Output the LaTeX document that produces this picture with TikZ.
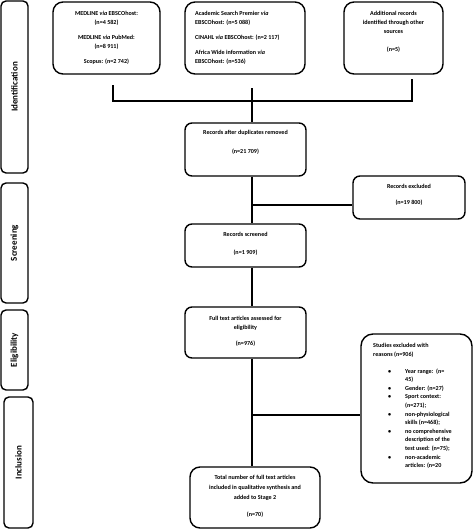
\documentclass[tikz,border=0pt]{standalone}
\usepackage{fontspec}
\setmainfont{Carlito}
\newcommand{\pbul}{\hspace*{15pt}\makebox[17pt][l]{\textbullet}}
\newcommand{\pcont}{\hspace*{32pt}}
\begin{document}
\begin{tikzpicture}[x=1pt,y=-1pt,
  box/.style={draw, line width=1.4pt, rounded corners=#1, inner sep=0pt},
  box/.default=7pt,
  txt/.style={font=\fontsize{6.1}{9}\selectfont\bfseries, align=center, inner sep=0pt},
  phasefont/.style={font=\fontsize{9}{11}\selectfont\bfseries},
  conn/.style={line width=1.4pt}]
\useasboundingbox (0,0) rectangle (473,530);

% phase boxes
\node[box=5pt, phasefont, minimum width=27pt, minimum height=172pt] (ident) at (14.5,87) {\rotatebox{90}{Identification}};
\node[box=5pt, phasefont, minimum width=27pt, minimum height=120pt] (screen) at (14.5,243) {\rotatebox{90}{Screening}};
\node[box=5pt, phasefont, minimum width=27pt, minimum height=80pt] (elig) at (14.5,350) {\rotatebox{90}{Eligibility}};
\node[box=5pt, phasefont, minimum width=29pt, minimum height=131pt] (incl) at (18.5,462.5) {\rotatebox{90}{Inclusion}};

% top boxes
\node[box=10pt, minimum width=107pt, minimum height=72pt] (medline) at (106.5,38) {};
\node[box=10pt, minimum width=120pt, minimum height=72pt] (acad) at (245,38) {};
\node[box=10pt, minimum width=99pt, minimum height=72pt] (addl) at (393.5,38) {};
\node[txt] (medlineT) at (106.5,38) {MEDLINE \textit{via} EBSCOhost:\\(n=4 582)\\[6pt]MEDLINE \textit{via} PubMed:\\(n=8 911)\\[6pt]Scopus: (n=2 742)};
\node[txt, align=left, anchor=west] (acadT) at (195,38) {Academic Search Premier \textit{via}\\EBSCOhost: (n=5 088)\\[6pt]CINAHL \textit{via} EBSCOhost: (n=2 117)\\[6pt]Africa Wide information \textit{via}\\EBSCOhost: (n=536)};
\node[txt] (addlT) at (393.5,32) {Additional records\\identified through other\\sources\\[9pt](n=5)};

% flow boxes
\node[box, minimum width=121pt, minimum height=53pt] (dup) at (245.5,149.5) {};
\node[txt] (dupT) at (245.5,142.5) {Records after duplicates removed\\[10pt](n=21 709)};
\node[box, minimum width=112pt, minimum height=43pt] (excl) at (409,197.5) {};
\node[txt] (exclT) at (409,195) {Records excluded\\[7pt](n=19 800)};
\node[box, minimum width=121pt, minimum height=43pt] (screened) at (245.5,245.5) {};
\node[txt] (screenedT) at (245.5,244) {Records screened\\[9pt](n=1 909)};
\node[box, minimum width=121pt, minimum height=51pt] (full) at (245.5,332.5) {};
\node[txt] (fullT) at (245.5,331) {Full text articles assessed for\\eligibility\\[7pt](n=976)};
\node[box=12pt, minimum width=111pt, minimum height=149pt] (studies) at (416.5,408.5) {};
\node[txt, align=left, anchor=north west, font=\fontsize{6.1}{8.6}\selectfont\bfseries] (studiesT) at (373,343.5) {Studies excluded with\\reasons (n=906)\\[8pt]
\pbul Year range:\ \ (n=\\\pcont 45)\\
\pbul Gender: (n=27)\\
\pbul Sport context:\\\pcont (n=271);\\
\pbul non-physiological\\\pcont skills (n=468);\\
\pbul no comprehensive\\\pcont description of the\\\pcont test used: (n=75);\\
\pbul non-academic\\\pcont articles: (n=20};
\node[box=10pt, minimum width=130pt, minimum height=61pt] (total) at (255,497.5) {};
\node[txt] (totalT) at (255,496.5) {Total number of full text articles\\[1pt]included in qualitative synthesis and\\[1pt]added to Stage 2\\[8pt](n=70)};

% connectors
\coordinate (mTop) at (113,85);
\coordinate (mJ) at (113,101);
\coordinate (aTop) at (412,79);
\coordinate (aJ) at (412,101);
\coordinate (cTop) at (252,88);
\coordinate (b1) at (252,205);
\coordinate (b2) at (252,415);
\draw[conn] (mTop) -- (mJ) -- (aJ) -- (aTop);
\draw[conn] (cTop) -- (cTop |- dup.north);
\draw[conn] (dup.south -| cTop) -- (screened.north -| cTop);
\draw[conn] (b1) -- (b1 -| excl.west);
\draw[conn] (screened.south -| cTop) -- (full.north -| cTop);
\draw[conn] (full.south -| cTop) -- (total.north -| cTop);
\draw[conn] (b2) -- (b2 -| studies.west);
\end{tikzpicture}
\end{document}
